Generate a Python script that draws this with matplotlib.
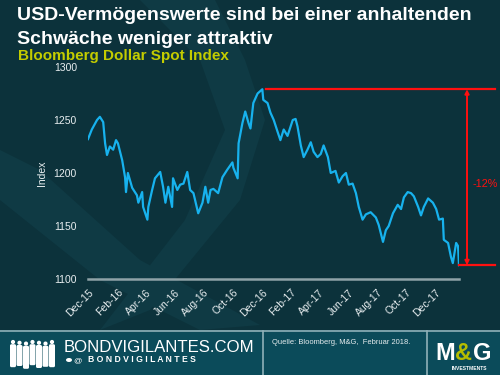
import matplotlib
matplotlib.use("Agg")
import matplotlib.pyplot as plt
import matplotlib.dates as mdates
import matplotlib.patches as mpatches
import numpy as np
import pandas as pd

# ---------------- data ----------------
dates = ["2015-12-01","2015-12-09","2015-12-20","2015-12-26","2016-01-02","2016-01-06","2016-01-10",
         "2016-01-16","2016-01-23","2016-01-29","2016-02-02","2016-02-11","2016-02-17","2016-02-19",
         "2016-02-23","2016-03-03","2016-03-13","2016-03-16","2016-03-24","2016-03-26","2016-04-04",
         "2016-04-06","2016-04-14","2016-04-20","2016-05-01","2016-05-07","2016-05-12","2016-05-18",
         "2016-05-26","2016-05-28","2016-06-06","2016-06-12","2016-06-19","2016-06-27","2016-07-03",
         "2016-07-10","2016-07-20","2016-07-29","2016-08-04","2016-08-10","2016-08-15","2016-08-21",
         "2016-08-31","2016-09-09","2016-09-19","2016-09-30","2016-10-02","2016-10-11","2016-10-13",
         "2016-10-21","2016-10-27","2016-11-03","2016-11-07","2016-11-13","2016-11-22","2016-12-02",
         "2016-12-04","2016-12-13","2016-12-19","2016-12-26","2017-01-03","2017-01-09","2017-01-16",
         "2017-01-24","2017-02-04","2017-02-10","2017-02-14","2017-02-21","2017-02-27","2017-03-07",
         "2017-03-14","2017-03-20","2017-03-28","2017-04-04","2017-04-10","2017-04-19","2017-04-25",
         "2017-05-05","2017-05-12","2017-05-20","2017-05-27","2017-06-02","2017-06-10","2017-06-17",
         "2017-06-23","2017-07-01","2017-07-08","2017-07-18","2017-07-29","2017-08-04","2017-08-13",
         "2017-08-19","2017-08-25","2017-09-03","2017-09-13","2017-09-20","2017-09-26","2017-10-04",
         "2017-10-11","2017-10-17","2017-10-26","2017-11-01","2017-11-07","2017-11-16","2017-11-26",
         "2017-12-03","2017-12-09","2017-12-17","2017-12-19","2017-12-28","2018-01-03","2018-01-07",
         "2018-01-14","2018-01-18","2018-01-20"]
values = [1232,1241,1250,1253,1248,1228,1217,1225,1222,1231,1228,1212,1196,1182,
          1200,1186,1179,1172,1182,1168,1156,1168,1184,1195,1201,1187,1172,1187,
          1168,1195,1184,1189,1190,1201,1184,1181,1162,1172,1187,1172,1184,1185,
          1181,1196,1203,1210,1205,1195,1228,1247,1258,1247,1242,1266,1275,1279,
          1269,1266,1257,1250,1239,1231,1241,1235,1250,1251,1244,1226,1215,1222,
          1229,1220,1215,1218,1226,1215,1200,1202,1191,1197,1200,1189,1190,1181,
          1168,1156,1161,1163,1158,1151,1135,1146,1150,1162,1170,1166,1177,1182,
          1181,1178,1168,1160,1168,1176,1172,1166,1156,1157,1137,1134,1121,1115,
          1134,1131,1113]
y_ticks = [1100, 1150, 1200, 1250, 1300]
tick_dates = ["2015-12-01","2016-02-01","2016-04-01","2016-06-01","2016-08-01","2016-10-01",
              "2016-12-01","2017-02-01","2017-04-01","2017-06-01","2017-08-01","2017-10-01","2017-12-01"]
tick_labels = ["Dec-15","Feb-16","Apr-16","Jun-16","Aug-16","Oct-16","Dec-16",
               "Feb-17","Apr-17","Jun-17","Aug-17","Oct-17","Dec-17"]
title_lines = ["USD-Vermögenswerte sind bei einer anhaltenden", "Schwäche weniger attraktiv"]
subtitle = "Bloomberg Dollar Spot Index"
change_label = "-12%"
source = "Quelle: Bloomberg, M&G,  Februar 2018."

# ---------------- style ----------------
BG = "#0c323b"
SWOOSH = "#0f3a44"
FOOT = "#0b4b5a"
LINE = "#17b2ee"
RED = "#ff1010"
TXT = "#e8eef0"
plt.rcParams["font.family"] = ["Liberation Sans", "DejaVu Sans"]

W, H = 500, 375
fig = plt.figure(figsize=(5, 3.75), dpi=100, facecolor=BG)

# background / decoration axes in pixel coordinates
bg = fig.add_axes([0, 0, 1, 1], zorder=0)
bg.set_xlim(0, W); bg.set_ylim(H, 0); bg.axis("off")
bg.set_facecolor(BG)

# faint brush swooshes
bg.add_patch(mpatches.Polygon([[140, 0], [215, 0], [245, 60], [265, 120], [240, 200],
                               [150, 310], [100, 330], [185, 220], [225, 130], [200, 60]],
                              closed=True, color=SWOOSH, zorder=0, lw=0))
bg.add_patch(mpatches.Polygon([[0, 150], [40, 170], [140, 260], [260, 325], [200, 330],
                               [100, 280], [0, 200]], closed=True, color=SWOOSH, zorder=0, lw=0))

# footer
bg.add_patch(mpatches.Rectangle((0, 330), W, 45, color=FOOT, zorder=1, lw=0))
bg.plot([0, W], [331, 331], color="#8fb0b8", lw=1.2, zorder=2)
for xv in (263, 427):
    bg.plot([xv, xv], [331, H], color="#8fb0b8", lw=1.2, zorder=2)

# silhouettes of people
xs_people = [13, 19.5, 26, 32.5, 39, 45.5, 52]
for i, xp in enumerate(xs_people):
    top = 340 + (i % 3) * 0.8
    bg.add_patch(mpatches.Circle((xp, top + 2), 2.1, color="white", zorder=3, lw=0))
    bg.add_patch(mpatches.FancyBboxPatch((xp - 3.0, top + 4.2), 6.0, 23 - (i % 2) * 2,
                                         boxstyle="round,pad=0,rounding_size=1.5",
                                         color="white", zorder=3, lw=0))

bg.text(64, 352, "BONDVIGILANTES.COM", color="white", fontsize=12.1, va="baseline",
        ha="left", zorder=4)
bg.add_patch(mpatches.Ellipse((69, 360), 6, 4, color="white", zorder=4, lw=0))
bg.text(73, 362.5, "@", color="white", fontsize=6, va="baseline", ha="left", zorder=4)
bg.text(88, 362.5, " ".join("BONDVIGILANTES"), color="white", fontsize=6.2, va="baseline",
        ha="left", zorder=4, fontweight="bold")
bg.text(272, 344, source, color=TXT, fontsize=5.4, va="baseline", ha="left", zorder=4)

# M&G logo
bg.text(463.5, 360, "&", color="#b4bc00", fontsize=17, fontweight="bold", ha="center",
        va="baseline", zorder=4)
bg.text(445, 360, "M", color="white", fontsize=17, fontweight="bold", ha="center",
        va="baseline", zorder=5)
bg.text(482, 360, "G", color="white", fontsize=17, fontweight="bold", ha="center",
        va="baseline", zorder=5)
bg.text(469, 369.5, "INVESTMENTS", color="white", fontsize=3.6, fontweight="bold",
        ha="center", va="baseline", zorder=5)

# titles
bg.text(17, 20, title_lines[0], color="white", fontsize=14, fontweight="bold",
        va="baseline", ha="left")
bg.text(17, 44, title_lines[1], color="white", fontsize=14, fontweight="bold",
        va="baseline", ha="left")
bg.text(18, 60, subtitle, color="#c3cc00", fontsize=11, fontweight="bold",
        va="baseline", ha="left")

# ---------------- main chart ----------------
ax = fig.add_axes([88 / W, (H - 279) / H, 371 / W, 212 / H], zorder=2)
ax.patch.set_alpha(0)
d = pd.to_datetime(dates)
v = np.array(values, dtype=float)
ax.plot(d, v, color=LINE, lw=1.6, solid_joinstyle="round", zorder=3)

ax.set_ylim(y_ticks[0], y_ticks[-1])
ax.set_yticks(y_ticks)
ax.set_xlim(d[0], d[-1])
ax.set_xticks(pd.to_datetime(tick_dates))
ax.set_xticklabels(tick_labels, rotation=45, ha="right", rotation_mode="anchor")
ax.tick_params(axis="both", length=0, colors=TXT, labelsize=7.5)
ax.tick_params(axis="y", pad=8)
ax.tick_params(axis="x", pad=6)
for s in ("top", "right", "left"):
    ax.spines[s].set_visible(False)
ax.spines["bottom"].set_color("#8fa3a8")
ax.spines["bottom"].set_linewidth(1.8)
ax.set_ylabel("Index", color=TXT, fontsize=7.5, labelpad=5)

# peak / trough annotation
x0, x1 = mdates.date2num(d[0]), mdates.date2num(d[-1])
span = x1 - x0
def frac(f):
    return mdates.num2date(x0 + f * span)
imax = int(np.argmax(v))
vmax, vmin = v.max(), v.min()
ax.plot([d[imax] + pd.Timedelta(days=8), frac(1.097)], [vmax, vmax], color=RED, lw=1.6,
        clip_on=False, zorder=4)
ax.plot([d[-1], frac(1.097)], [vmin, vmin], color=RED, lw=1.6, clip_on=False, zorder=4)
ax.annotate("", xy=(frac(1.0216), vmin), xytext=(frac(1.0216), vmax),
            arrowprops=dict(arrowstyle="<|-|>", color=RED, lw=1.4, mutation_scale=6,
                            shrinkA=0, shrinkB=0), annotation_clip=False)
ax.text(frac(1.07), (vmax + vmin) / 2 - 6, change_label, color=RED, fontsize=7.8,
        ha="center", va="center", clip_on=False)

fig.savefig("out.png", dpi=100, facecolor=BG)
